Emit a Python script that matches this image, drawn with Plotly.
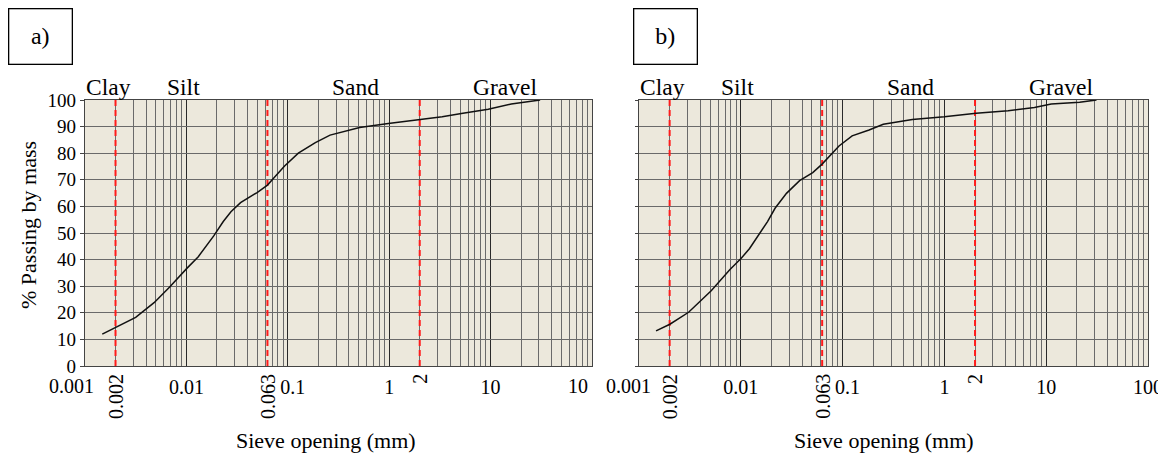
import numpy as np
import plotly.graph_objects as go

# ---------------- data ----------------
size_a = [0.00148, 0.00201, 0.00316, 0.0048, 0.0068, 0.0101, 0.0131, 0.0186, 0.0231, 0.0275,
          0.0342, 0.0498, 0.063, 0.075, 0.093, 0.127, 0.187, 0.261, 0.511, 0.98, 1.97, 3.33,
          5.15, 9.48, 16.0, 30.8]
pass_a = [12.0, 14.5, 18.3, 23.8, 29.6, 36.7, 41.1, 48.9, 54.3, 58.0,
          61.4, 65.2, 68.0, 71.2, 75.2, 80.0, 84.0, 86.8, 89.7, 91.2, 92.5, 93.7,
          94.9, 96.5, 98.5, 100.0]

size_b = [0.00147, 0.00201, 0.00307, 0.00512, 0.00783, 0.0101, 0.0122, 0.0148, 0.0183, 0.0217,
          0.0281, 0.0378, 0.0509, 0.0629, 0.0764, 0.0922, 0.124, 0.182, 0.251, 0.484, 0.998,
          2.05, 4.23, 7.67, 11.2, 21.3, 31.2]
pass_b = [13.2, 15.7, 20.2, 28.3, 36.3, 40.5, 44.2, 49.2, 54.3, 59.3,
          64.9, 69.7, 72.7, 75.9, 79.3, 82.7, 86.5, 88.7, 90.9, 92.7, 93.7,
          95.0, 96.0, 97.2, 98.5, 99.2, 100.0]

boundaries = [0.002, 0.063, 2]
boundary_labels = ["0.002", "0.063", "2"]

classes = ["Clay", "Silt", "Sand", "Gravel"]
class_pos = [0.0017, 0.0093, 0.46, 14.0]

x_tickvals = [0.001, 0.01, 0.1, 1, 10, 100]
NB = "\u00a0"
# end labels of each axis are drawn separately (they sit off-centre in the original)
x_ticktext_a = ["", "0.01", NB * 2 + "0.1", "1", "10", ""]
x_ticktext_b = ["", "0.01", NB * 2 + "0.1", "1", "10", "100"]
# (value, text, pixel shift from tick to right edge of text)
end_labels_a = [(0.001, "0.001", 11), (100, "10", -2)]
end_labels_b = [(0.001, "0.001", 14)]
y_tickvals = list(range(0, 101, 10))

panel_labels = ["a)", "b)"]

FONT = "Liberation Serif"
BG = "#ECE8DC"
MINOR = "#6a6a6a"
MAJOR = "#2a2a2a"
RED = "#FF1A1A"

W, H = 1166, 458
OFF = 8  # page body margin compensation


def px(xr):
    return (xr - OFF) / W


def py(yr):
    return (H - (yr - OFF)) / H


fig = go.Figure()

panels = [
    dict(x=size_a, y=pass_a, xa="x", ya="y", dom=[px(85), px(592)], ticktext=x_ticktext_a,
         ends=end_labels_a, showy=True, title_x=326, box_x=40.5),
    dict(x=size_b, y=pass_b, xa="x2", ya="y2", dom=[px(639), px(1148)], ticktext=x_ticktext_b,
         ends=end_labels_b, showy=False, title_x=884, box_x=665),
]
ydom = [py(366), py(100)]

for i, p in enumerate(panels):
    # red dashed boundary lines
    for b in boundaries:
        fig.add_trace(go.Scatter(x=[b, b], y=[0, 100], mode="lines", xaxis=p["xa"], yaxis=p["ya"],
                                 line=dict(color=RED, width=2, dash="6px,4px"),
                                 showlegend=False, hoverinfo="skip"))
    fig.add_trace(go.Scatter(x=p["x"], y=p["y"], mode="lines", xaxis=p["xa"], yaxis=p["ya"],
                             line=dict(color="#111111", width=1.5), showlegend=False))

    sfx = "" if i == 0 else "2"
    xaxis = dict(
        type="log", domain=p["dom"], range=[-3, 2], anchor="y" + sfx, automargin=False,
        tickmode="array", tickvals=x_tickvals, ticktext=p["ticktext"],
        showgrid=True, gridcolor=MAJOR, gridwidth=1.2,
        minor=dict(dtick="D1", showgrid=True, gridcolor=MINOR, gridwidth=1, ticks=""),
        showline=True, linecolor="#444", linewidth=1.2, mirror=True,
        ticks="", ticklabelstandoff=3,
        tickfont=dict(family=FONT, size=20, color="black"),
        zeroline=False, fixedrange=True,
    )
    yaxis = dict(
        domain=ydom, range=[0, 100], anchor="x" + sfx, automargin=False,
        tickmode="array", tickvals=y_tickvals,
        showticklabels=p["showy"],
        showgrid=True, gridcolor=MINOR, gridwidth=1,
        showline=True, linecolor="#444", linewidth=1.2, mirror=True,
        ticks="outside", ticklen=4 if p["showy"] else 3, tickcolor="#444",
        tickfont=dict(family=FONT, size=19, color="black"),
        zeroline=False, fixedrange=True,
    )
    fig.update_layout(**{"xaxis" + sfx: xaxis, "yaxis" + sfx: yaxis})

    # axis end labels
    for v, t, sh in p["ends"]:
        fig.add_annotation(x=np.log10(v), xref=p["xa"], y=py(386), yref="paper", text=t,
                           showarrow=False, xanchor="right", yanchor="middle", xshift=sh,
                           font=dict(family=FONT, size=20, color="black"))

    # rotated boundary labels below axis
    for b, lab in zip(boundaries, boundary_labels):
        fig.add_annotation(x=np.log10(b), xref=p["xa"], y=py(372), yref="paper",
                           text=lab, textangle=-90, showarrow=False, xanchor="center",
                           yanchor="top", font=dict(family=FONT, size=20, color="black"))
    # soil classes above plot
    for c, cp in zip(classes, class_pos):
        fig.add_annotation(x=np.log10(cp), xref=p["xa"], y=py(87), yref="paper",
                           text=c, showarrow=False, xanchor="center", yanchor="middle",
                           font=dict(family=FONT, size=23.5, color="black"))
    # x title
    fig.add_annotation(x=px(p["title_x"]), y=py(440), xref="paper", yref="paper",
                       text="Sieve opening (mm)", showarrow=False, xanchor="center",
                       yanchor="middle", font=dict(family=FONT, size=22, color="black"))
    # panel label box
    fig.add_annotation(x=px(p["box_x"]), y=py(37), xref="paper", yref="paper",
                       text=panel_labels[i], showarrow=False, xanchor="center", yanchor="middle",
                       width=60, height=52, bordercolor="black", borderwidth=1.3,
                       font=dict(family=FONT, size=24, color="black"))

# y title
fig.add_annotation(x=px(28), y=py(225), xref="paper", yref="paper",
                   text="% Passing by mass", textangle=-90, showarrow=False,
                   xanchor="center", yanchor="middle", font=dict(family=FONT, size=22, color="black"))

fig.update_layout(
    width=W, height=H, margin=dict(l=0, r=0, t=0, b=0, autoexpand=False),
    paper_bgcolor="white", plot_bgcolor=BG, showlegend=False,
    font=dict(family=FONT),
)

fig.write_html("out.html")
